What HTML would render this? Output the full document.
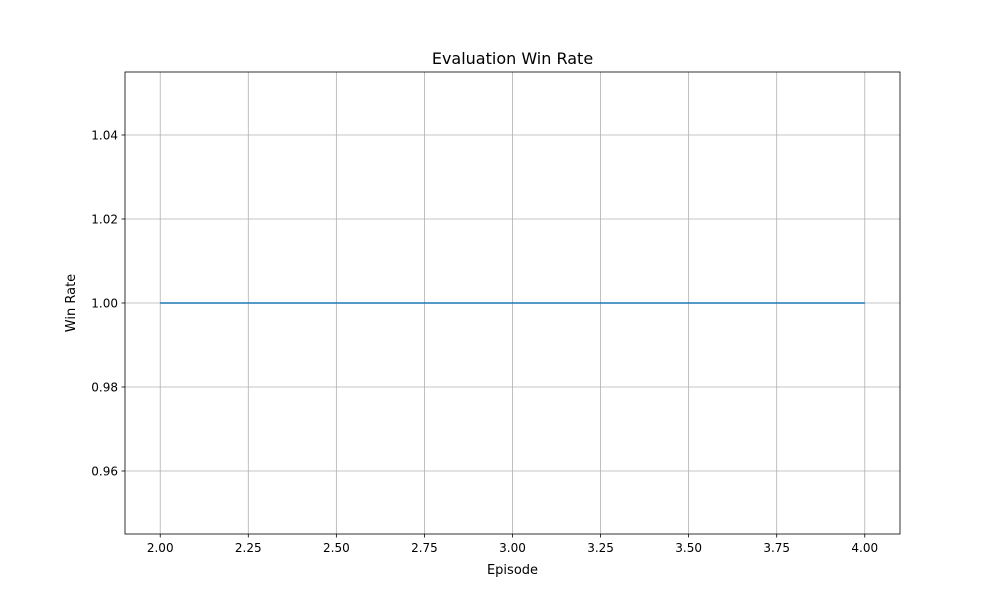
<!DOCTYPE html>
<html><head><meta charset="utf-8"><style>
body{margin:0;background:#fff;font-family:"Liberation Sans","DejaVu Sans",sans-serif;}
svg text{font-family:"DejaVu Sans","Liberation Sans",sans-serif;}
</style></head><body>
<svg id="chart" width="1000" height="600" xmlns="http://www.w3.org/2000/svg">
<rect width="1000" height="600" fill="#fff"/>
<g id="grid"></g>
<g id="series"></g>
<rect x="125" y="72" width="775" height="462" fill="none" stroke="#000" stroke-width="0.8"/>
<g id="ticks"></g>
<text x="512.5" y="64" text-anchor="middle" font-size="16">Evaluation Win Rate</text>
<text x="512.5" y="574" text-anchor="middle" font-size="13">Episode</text>
<text transform="translate(75,303) rotate(-90)" text-anchor="middle" font-size="13">Win Rate</text>
</svg>
<script>
const episodes=[2,3,4];
const winRates=[1.0,1.0,1.0];
const xTicks=[2.0,2.25,2.5,2.75,3.0,3.25,3.5,3.75,4.0];
const yTicks=[0.96,0.98,1.00,1.02,1.04];
const L=125,R=900,T=72,B=534,xmin=1.9,xmax=4.1,ymin=0.945,ymax=1.055;
const sx=v=>L+(v-xmin)/(xmax-xmin)*(R-L);
const sy=v=>B-(v-ymin)/(ymax-ymin)*(B-T);
const NS='http://www.w3.org/2000/svg';
const grid=document.getElementById('grid'),ticks=document.getElementById('ticks'),series=document.getElementById('series');
function mk(tag,attrs,parent){const e=document.createElementNS(NS,tag);for(const k in attrs)e.setAttribute(k,attrs[k]);parent.appendChild(e);return e;}
xTicks.forEach(t=>{const x=sx(t);
const g=mk('line',{x1:x,x2:x,y1:T,y2:B,stroke:'#b0b0b0','stroke-width':0.8},grid);


const tk=mk('line',{x1:x,x2:x,y1:B,y2:B+3.5,stroke:'#000','stroke-width':0.8},ticks);


const tx=mk('text',{x:x,y:B+18,'text-anchor':'middle','font-size':12},ticks);tx.textContent=t.toFixed(2);


});
yTicks.forEach(t=>{const y=sy(t);
const g=mk('line',{x1:L,x2:R,y1:y,y2:y,stroke:'#b0b0b0','stroke-width':0.8},grid);


const tk=mk('line',{x1:L-3.5,x2:L,y1:y,y2:y,stroke:'#000','stroke-width':0.8},ticks);


const tx=mk('text',{x:L-7,y:y+4.5,'text-anchor':'end','font-size':12},ticks);tx.textContent=t.toFixed(2);


});
const pts=episodes.map((e,i)=>sx(e)+','+sy(winRates[i])).join(' ');
const pl=mk('polyline',{points:pts,fill:'none',stroke:'#1f77b4','stroke-width':1.5},series);


</script>
</body></html>
